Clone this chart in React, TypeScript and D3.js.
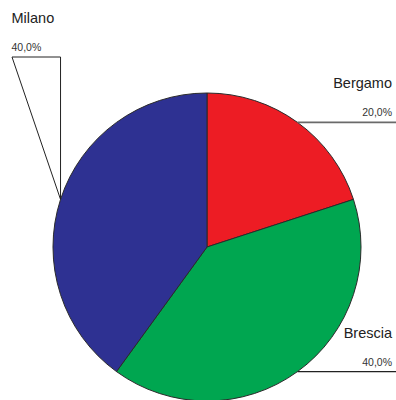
import React from "react";
import * as d3 from "d3";

const categories = ["Bergamo", "Brescia", "Milano"];
const values = [20, 40, 40];
const percentLabels = ["20,0%", "40,0%", "40,0%"];
const colors = ["#ED1C24", "#00A650", "#2E3192"];

export default function App() {
  const width = 396;
  const height = 400;
  const cx = 207;
  const cy = 247;
  const r = 154;

  const pie = d3.pie<number>().sort(null).value((d) => d);
  const arcs = pie(values);
  const arcGen = d3.arc<d3.PieArcDatum<number>>().innerRadius(0).outerRadius(r);

  const anchor = (a: d3.PieArcDatum<number>) => {
    const m = (a.startAngle + a.endAngle) / 2;
    return [cx + r * Math.sin(m), cy - r * Math.cos(m)];
  };

  const font = "Liberation Sans, Arial, sans-serif";
  const [bx, by] = anchor(arcs[0]);
  const [sx, sy] = anchor(arcs[1]);
  const [mx, my] = anchor(arcs[2]);

  return (
    <div style={{ position: "fixed", left: 0, top: 0, width, height, background: "#fff" }}>
      <svg width={width} height={height} style={{ display: "block" }}>
        <g transform={`translate(${cx},${cy})`}>
          {arcs.map((a, i) => (
            <path key={categories[i]} d={arcGen(a) || ""} fill={colors[i]} stroke="#2a2a2a" strokeWidth={1} />
          ))}
        </g>
        {/* Bergamo */}
        <line x1={bx} y1={by} x2={width} y2={by} stroke="#6a6a6a" strokeWidth={1.6} />
        <text x={392} y={88} textAnchor="end" fontFamily={font} fontSize={14.5} fill="#222">{categories[0]}</text>
        <text x={392} y={116} textAnchor="end" fontFamily={font} fontSize={10.5} fill="#333">{percentLabels[0]}</text>
        {/* Brescia */}
        <line x1={sx} y1={sy} x2={width} y2={sy} stroke="#222" strokeWidth={1.2} />
        <text x={392} y={338} textAnchor="end" fontFamily={font} fontSize={14.5} fill="#222">{categories[1]}</text>
        <text x={392} y={366} textAnchor="end" fontFamily={font} fontSize={10.5} fill="#333">{percentLabels[1]}</text>
        {/* Milano */}
        <path d={`M${mx},${my} L${mx},57 L12,57 Z`} fill="none" stroke="#222" strokeWidth={1} />
        <text x={11.5} y={23} fontFamily={font} fontSize={14.5} fill="#222">{categories[2]}</text>
        <text x={11.5} y={51} fontFamily={font} fontSize={10.5} fill="#333">{percentLabels[2]}</text>
      </svg>
    </div>
  );
}
